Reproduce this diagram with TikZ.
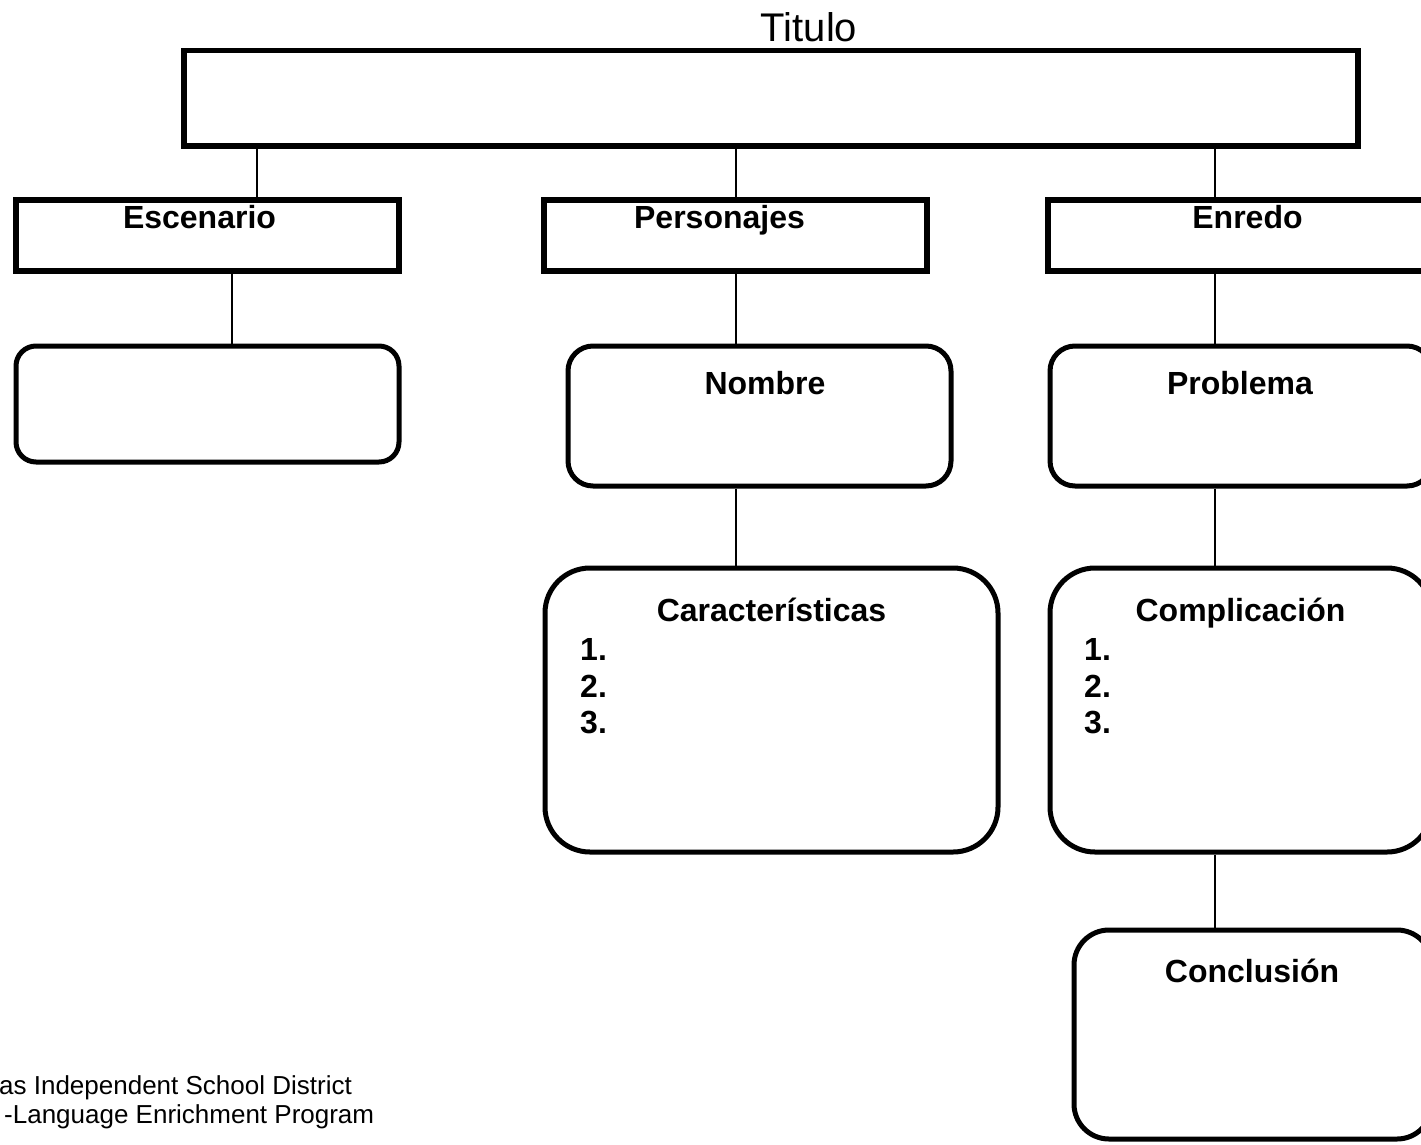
\documentclass[tikz,border=0pt]{standalone}
\usepackage{fontspec}
\setmainfont{Liberation Sans}
\begin{document}
\begin{tikzpicture}[x=1pt,y=-1pt,
  sqbox/.style={draw=black,line width=5.5pt,inner sep=0pt,rectangle},
  rbox/.style={draw=black,line width=5pt,inner sep=0pt,rectangle,rounded corners=#1},
  conn/.style={draw=black,line width=1.5pt},
  lbl/.style={font=\fontsize{32}{38}\selectfont\bfseries,anchor=base,inner sep=0pt},
  num/.style={font=\fontsize{32}{38}\selectfont\bfseries,anchor=base west,inner sep=0pt},
  foot/.style={font=\fontsize{26}{29}\selectfont,anchor=base west,inner sep=0pt}]
\useasboundingbox[fill=white] (0,0) rectangle (1421,1144);
% boxes
\node[sqbox,minimum width=1174pt,minimum height=95.5pt] (title) at (771,98.25) {};
\node[sqbox,minimum width=383pt,minimum height=71pt] (esc) at (207.5,235.5) {};
\node[sqbox,minimum width=383pt,minimum height=71pt] (per) at (735.5,235.5) {};
\node[sqbox,minimum width=387pt,minimum height=71pt] (enr) at (1241.5,235.5) {};
\node[rbox=20pt,minimum width=383pt,minimum height=116pt] (escr) at (207.5,404) {};
\node[rbox=25pt,minimum width=383pt,minimum height=140pt] (nom) at (759.5,416) {};
\node[rbox=25pt,minimum width=382pt,minimum height=140pt] (prob) at (1241,416) {};
\node[rbox=45pt,minimum width=453pt,minimum height=284pt] (car) at (771.5,710) {};
\node[rbox=45pt,minimum width=382pt,minimum height=284pt] (comp) at (1241,710) {};
\node[rbox=35pt,minimum width=358pt,minimum height=209pt] (concl) at (1253,1034.5) {};
% connector columns
\coordinate (c1) at (257,0);
\coordinate (c2) at (736,0);
\coordinate (c3) at (1215,0);
\coordinate (c4) at (232,0);
\draw[conn] (title.south -| c1) -- (esc.north -| c1);
\draw[conn] (title.south -| c2) -- (per.north -| c2);
\draw[conn] (title.south -| c3) -- (enr.north -| c3);
\draw[conn] (esc.south -| c4) -- (escr.north -| c4);
\draw[conn] (per.south -| c2) -- (nom.north -| c2);
\draw[conn] (enr.south -| c3) -- (prob.north -| c3);
\draw[conn] (nom.south -| c2) -- (car.north -| c2);
\draw[conn] (prob.south -| c3) -- (comp.north -| c3);
\draw[conn] (comp.south -| c3) -- (concl.north -| c3);
% texts
\node[font=\fontsize{40}{48}\selectfont,anchor=base,inner sep=0pt] (ttl) at (809,41) {Titulo};
\node[lbl] (tesc) at (199.5,228) {Escenario};
\node[lbl] (tper) at (719.5,228) {Personajes};
\node[lbl] (tenr) at (1247.5,228) {Enredo};
\node[lbl] (tnom) at (765,394) {Nombre};
\node[lbl] (tprob) at (1240,394) {Problema};
\node[lbl] (tcar) at (771.5,621) {Características};
\node[lbl] (tcomp) at (1240.5,621) {Complicación};
\node[lbl] (tconcl) at (1252,982) {Conclusión};
\node[num] (c1n) at (580,660) {1.};
\node[num] (c2n) at (580,697) {2.};
\node[num] (c3n) at (580,733) {3.};
\node[num] (k1n) at (1084,660) {1.};
\node[num] (k2n) at (1084,697) {2.};
\node[num] (k3n) at (1084,733) {3.};
\node[foot] (f1) at (-1,1094) {as Independent School District};
\node[foot] (f2) at (4,1123) {-Language Enrichment Program};
\end{tikzpicture}
\end{document}
